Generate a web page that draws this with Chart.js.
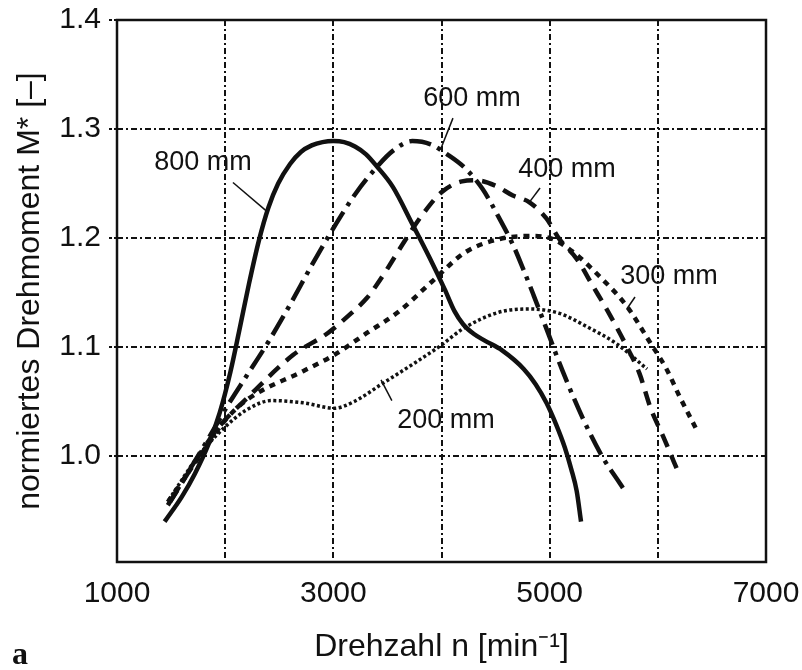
<!DOCTYPE html>
<html>
<head>
<meta charset="utf-8">
<script src="https://cdn.jsdelivr.net/npm/chart.js@4.4.1/dist/chart.umd.min.js"></script>
<style>
html,body{margin:0;padding:0;background:#fff;}
</style>
</head>
<body>
<canvas id="myChart" width="802" height="670"></canvas>
<script>
'use strict';
// Drehzahl [1/min] und normiertes Drehmoment je Rohrlaenge
let rpm800=[1440,1600,1720,1850,1950,2050,2130,2220,2310,2400,2490,2600,2700,2800,2900,3000,3100,3200,3300,3400,3550,3730,3890,4030,4120,4200,4300,4400,4560,4760,4870,4970,5060,5140,5200,5250,5290];
let m800=[0.94,0.963,0.984,1.012,1.04,1.078,1.115,1.158,1.197,1.228,1.25,1.268,1.279,1.285,1.288,1.289,1.288,1.284,1.277,1.266,1.247,1.213,1.182,1.153,1.133,1.121,1.112,1.106,1.097,1.08,1.066,1.049,1.029,1.008,0.988,0.968,0.94];

let rpm600=[1470,1820,2020,2200,2400,2600,2800,3000,3200,3400,3550,3730,3900,4050,4220,4380,4530,4660,4750,4850,4970,5120,5310,5490,5650,5710];
let m600=[0.955,1.012,1.046,1.074,1.105,1.139,1.175,1.209,1.24,1.265,1.28,1.289,1.286,1.277,1.264,1.245,1.219,1.194,1.173,1.148,1.117,1.078,1.034,0.999,0.975,0.966];

let rpm400=[1490,1920,2220,2630,2950,3130,3310,3400,3500,3670,3820,4000,4190,4320,4500,4660,4810,4970,5090,5250,5400,5560,5710,5830,5930,6050,6190];
let m400=[0.958,1.024,1.055,1.093,1.113,1.128,1.145,1.157,1.172,1.199,1.221,1.242,1.252,1.253,1.248,1.239,1.233,1.218,1.199,1.181,1.156,1.129,1.101,1.076,1.045,1.018,0.985];

let rpm300=[1470,1800,2000,2220,2720,3010,3310,3610,3910,4220,4530,4840,5030,5220,5460,5710,5930,6080,6200,6360];
let m300=[0.958,1.005,1.033,1.053,1.078,1.093,1.113,1.133,1.16,1.187,1.199,1.202,1.199,1.187,1.165,1.138,1.104,1.08,1.055,1.024];

let rpm200=[1480,1750,1990,2190,2430,2720,3010,3190,3460,3760,4000,4200,4530,4810,5090,5340,5620,5900];
let m200=[0.96,1.0,1.026,1.042,1.051,1.049,1.044,1.05,1.067,1.086,1.102,1.117,1.132,1.135,1.131,1.119,1.103,1.08];

let xTicks=[1000,2000,3000,4000,5000,6000,7000];
let xLabels=['1000','','3000','','5000','','7000'];
let yTicks=[1.0,1.1,1.2,1.3,1.4];

// Beschriftungen mit Hinweislinien (Datenkoordinaten)
let labelNames=['800 mm','600 mm','400 mm','300 mm','200 mm'];
let labelX=[1795,4282,5160,6103,4042];
let labelY=[1.269,1.3276,1.2625,1.165,1.033];
let leadFromX=[2072,4106,4911,5789,3541];
let leadFromY=[1.251,1.31,1.246,1.146,1.051];
let leadToX=[2380,3990,4813,5713,3441];
let leadToY=[1.225,1.281,1.233,1.135,1.07];

const fontFam='"Liberation Sans", Arial, sans-serif';

function toPoints(xs,ys){
  let pts=[];
  for(let i=0;i<xs.length;i++){
    pts.push({x:xs[i],y:ys[i]});
  }
  return pts;
}

function makeSet(name,xs,ys,dash,width){
  return {
    label:name,
    data:toPoints(xs,ys),
    borderColor:'#111',
    borderWidth:width,
    borderDash:dash,
    borderCapStyle:'butt',
    pointRadius:0,
    fill:false,
    cubicInterpolationMode:'monotone'
  };
}

const annotPlugin={
  id:'annot',
  afterDraw(chart){
    const ctx=chart.ctx;
    const xs=chart.scales.x;
    const ys=chart.scales.y;
    const a=chart.chartArea;
    ctx.save();
    // Rahmen
    ctx.strokeStyle='#111';
    ctx.lineWidth=2.5;
    ctx.setLineDash([]);
    ctx.strokeRect(a.left,a.top,a.right-a.left,a.bottom-a.top);
    // Hinweislinien
    ctx.lineWidth=1.5;
    for(let i=0;i<labelNames.length;i++){
      ctx.beginPath();
      ctx.moveTo(xs.getPixelForValue(leadFromX[i]),ys.getPixelForValue(leadFromY[i]));
      ctx.lineTo(xs.getPixelForValue(leadToX[i]),ys.getPixelForValue(leadToY[i]));
      ctx.stroke();
    }
    ctx.fillStyle='#111';
    ctx.font='27px '+fontFam;
    ctx.textAlign='center';
    ctx.textBaseline='middle';
    for(let i=0;i<labelNames.length;i++){
      ctx.fillText(labelNames[i],xs.getPixelForValue(labelX[i]),ys.getPixelForValue(labelY[i]));
    }
    ctx.font='bold 32px "Liberation Serif", serif';
    ctx.textAlign='left';
    ctx.textBaseline='alphabetic';
    ctx.fillText('a',12,664);
    ctx.restore();
  }
};

let ctx=document.getElementById('myChart').getContext('2d');
let myChart=new Chart(ctx,{
  type:'line',
  data:{
    datasets:[
      makeSet('800 mm',rpm800,m800,[],4.5),
      makeSet('600 mm',rpm600,m600,[22,7,4,7],4.5),
      makeSet('400 mm',rpm400,m400,[14,9],4.5),
      makeSet('300 mm',rpm300,m300,[6,6],4.5),
      makeSet('200 mm',rpm200,m200,[3,2.5],3.5)
    ]
  },
  options:{
    responsive:false,
    animation:false,
    devicePixelRatio:1,
    layout:{padding:{left:0,right:36,top:20,bottom:0}},
    plugins:{legend:{display:false},tooltip:{enabled:false}},
    scales:{
      x:{
        type:'linear',
        min:1000,
        max:7000,
        afterFit(scale){
          scale.height=108;
          scale.paddingLeft=0;
          scale.paddingRight=0;
        },
        afterBuildTicks(scale){ scale.ticks=xTicks.map(v=>({value:v})); },
        ticks:{
          color:'#111',
          padding:14,
          maxRotation:0,
          autoSkip:false,
          font:{family:fontFam,size:30},
          callback:(v,i)=>xLabels[i]
        },
        grid:{color:'#111',lineWidth:2,drawTicks:false},
        border:{display:false,dash:[6,3,2,3]},
        title:{
          display:true,
          text:'Drehzahl n [min⁻¹]',
          color:'#111',
          font:{family:fontFam,size:32,lineHeight:1},
          padding:{top:0,bottom:7}
        }
      },
      y:{
        type:'linear',
        min:0.903,
        max:1.4,
        afterFit(scale){
          scale.width=117;
          scale.paddingTop=0;
          scale.paddingBottom=0;
        },
        afterBuildTicks(scale){ scale.ticks=yTicks.map(v=>({value:v})); },
        ticks:{
          color:'#111',
          padding:8,
          font:{family:fontFam,size:30},
          callback:(v)=>v.toFixed(1)
        },
        grid:{color:'#111',lineWidth:2,tickLength:8,tickBorderDash:[3,2]},
        border:{display:false,dash:[6,3,2,3]},
        title:{
          display:true,
          text:'normiertes Drehmoment M* [–]',
          color:'#111',
          font:{family:fontFam,size:32,lineHeight:1},
          padding:{top:14,bottom:0}
        }
      }
    }
  },
  plugins:[annotPlugin]
});
</script>
</body>
</html>
